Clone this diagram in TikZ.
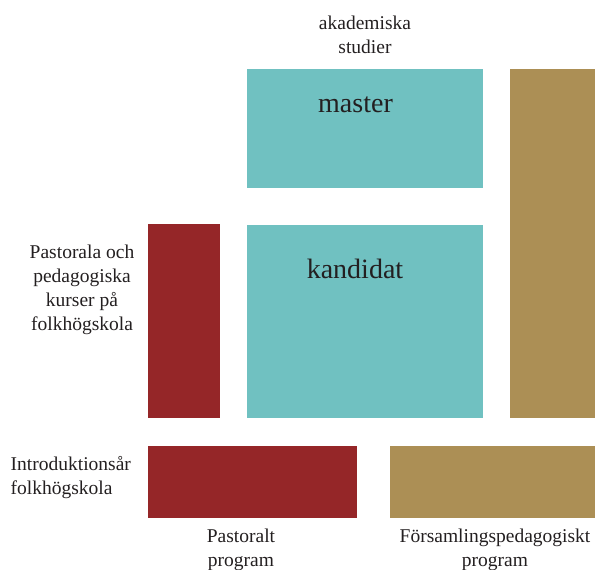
\documentclass[tikz,border=0pt]{standalone}
\usepackage{fontspec}
\setmainfont{Liberation Serif}
\usepackage{xcolor}
\usepackage{tikz}
\definecolor{studyteal}{HTML}{70C1C1}
\definecolor{pastoralred}{HTML}{952628}
\definecolor{parishgold}{HTML}{AC8F55}
\definecolor{labelgray}{HTML}{231F20}

\begin{document}
\begin{tikzpicture}[
    x=1pt, y=-1pt,
    block/.style={rectangle, draw=none, fill=#1, anchor=north west, inner sep=0pt},
    caption/.style={font=\fontsize{19.5}{24}\selectfont, text=labelgray, align=center, inner sep=0pt},
    level/.style={font=\fontsize{28}{33}\selectfont, text=labelgray, inner sep=0pt, anchor=base},
]
\useasboundingbox (0,0) rectangle (595,570);

% Academic column
\node[block=studyteal, minimum width=236pt, minimum height=119pt] (master) at (247,69) {};
\node[block=studyteal, minimum width=236pt, minimum height=193pt] (kandidat) at (247,225) {};
\node[level] (mastertext) at (355.5,112) {master};
\node[level] (kandidattext) at (355,278) {kandidat};

% Pastoral track
\node[block=pastoralred, minimum width=72pt, minimum height=194pt] (pastcourse) at (148,224) {};
\node[block=pastoralred, minimum width=209pt, minimum height=72pt] (pastintro) at (148,446) {};

% Parish pedagogy track
\node[block=parishgold, minimum width=85pt, minimum height=349pt] (parishcol) at (510,69) {};
\node[block=parishgold, minimum width=205pt, minimum height=72pt] (parishintro) at (390,446) {};

% Labels
\node[caption, anchor=north] (academic) at (365,15.7) {akademiska\\studier};
\node[caption, anchor=north] (courses) at (82,244.4) {Pastorala och\\pedagogiska\\kurser på\\folkhögskola};
\node[caption, anchor=north west, align=left] (introyear) at (10.5,456.3) {Introduktionsår\\folkhögskola};
\node[caption, anchor=north] (pastprog) at (241,528.4) {Pastoralt\\program};
\node[caption, anchor=north] (parishprog) at (495,528.4) {Församlingspedagogiskt\\program};

\end{tikzpicture}
\end{document}
